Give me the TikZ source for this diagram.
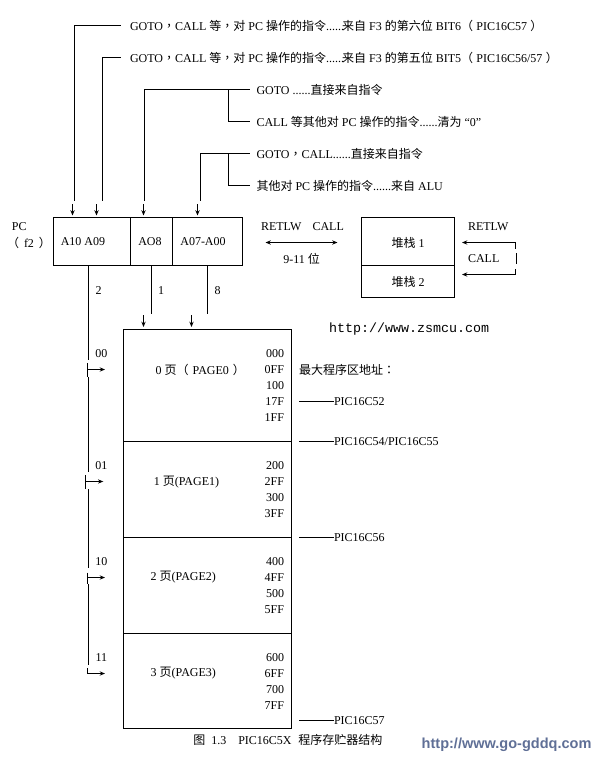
\documentclass[tikz,border=0pt]{standalone}
\usepackage{fontspec}
\setmainfont{Liberation Serif}
\setmonofont{Liberation Mono}
\setsansfont{Liberation Sans}
\newfontfamily\cjk{Noto Sans CJK SC}
\newfontfamily\cjktc{Noto Sans CJK TC}
\newcommand{\zh}[1]{{\cjk\fontsize{9pt}{10pt}\selectfont #1}}
\newcommand{\zc}{{\cjktc\fontsize{9pt}{10pt}\selectfont ，}}
\newcommand{\zo}{\zh{（}\hspace{2.5pt}}
\newcommand{\zd}{\hspace{2.5pt}\zh{）}}
\usetikzlibrary{arrows.meta}
\definecolor{wm}{HTML}{5F6F96}
\tikzset{
  x=0.75pt,y=-0.75pt,
  every node/.style={font=\fontsize{9pt}{11pt}\selectfont,inner sep=0pt,outer sep=0pt},
  wire/.style={line width=0.75pt,line cap=rect},
  tip/.style={line width=0.75pt,-{Stealth[length=4pt,width=3.2pt]}},
  cell/.style 2 args={draw,line width=0.75pt,minimum width=#1*0.75pt,minimum height=#2*0.75pt},
  lab/.style={anchor=west},
  addr/.style={anchor=east},
  ctr/.style={anchor=center},
}
\begin{document}
\begin{tikzpicture}
\useasboundingbox (0,0) rectangle (601,760);
% PC register
\node[cell={77}{48}] (a10) at (92,241.5) {};
\node[cell={42}{48}] (a08) at (151.5,241.5) {};
\node[cell={70}{48}] (a07) at (207.5,241.5) {};
\node[ctr] (a10t) at (83,242) {A10 A09};
\node[ctr] (a08t) at (150,242) {AO8};
\node[ctr] (a07t) at (203,242) {A07-A00};
\node[lab] (pc) at (12,226.5) {PC};
\node[ctr] (f2) at (29,243) {\zh{（}\hspace{3.75pt}f2\hspace{3.75pt}\zh{）}};
% top texts
\node[lab] (t1) at (130,26) {GOTO\zc CALL \zh{等}\zc\zh{对} PC \zh{操作的指令}......\hspace{-1.5pt}\zh{来自} F3 \zh{的第六位} BIT6\zo PIC16C57\zd};
\node[lab] (t2) at (130,57.5) {GOTO\zc CALL \zh{等}\zc\zh{对} PC \zh{操作的指令}......\hspace{-1.5pt}\zh{来自} F3 \zh{的第五位} BIT5\zo PIC16C56/57\zd};
\node[lab] (t3) at (256.5,89.5) {GOTO ......\zh{直接来自指令}};
\node[lab] (t4) at (256.5,121.5) {CALL \zh{等其他对} PC \zh{操作的指令}......\zh{清为} “0”};
\node[lab] (t5) at (256.5,153.5) {GOTO\zc CALL......\zh{直接来自指令}};
\node[lab] (t6) at (256.5,185.5) {\zh{其他对} PC \zh{操作的指令}......\zh{来自} ALU};
% top wires
\coordinate (w1a) at (120,25.5); \coordinate (w1b) at (74.5,25.5); \coordinate (w1c) at (74.5,200);
\coordinate (w2a) at (120,57.5); \coordinate (w2b) at (102.5,57.5); \coordinate (w2c) at (102.5,200);
\coordinate (w3a) at (249,89.5); \coordinate (w3b) at (144.5,89.5); \coordinate (w3c) at (144.5,200);
\coordinate (w3j) at (228.5,89.5); \coordinate (w3k) at (228.5,121.5); \coordinate (w3l) at (249,121.5);
\coordinate (w4a) at (249,153.5); \coordinate (w4b) at (200.5,153.5); \coordinate (w4c) at (200.5,200);
\coordinate (w4j) at (228.5,153.5); \coordinate (w4k) at (228.5,185.5); \coordinate (w4l) at (249,185.5);
\draw[wire] (w1a) -- (w1b) -- (w1c);
\draw[wire] (w2a) -- (w2b) -- (w2c);
\draw[wire] (w3a) -- (w3b) -- (w3c);
\draw[wire] (w3j) -- (w3k) -- (w3l);
\draw[wire] (w4a) -- (w4b) -- (w4c);
\draw[wire] (w4j) -- (w4k) -- (w4l);
% short arrows onto register
\foreach \n/\x in {p1/72.5,p2/96.5,p3/143.5,p4/197.5}{
  \coordinate (\n s) at (\x,204); \coordinate (\n e) at (\x,215.5);
  \draw[tip] (\n s) -- (\n e);
}
% wires out of register
\coordinate (d8) at (207.5,313); \coordinate (d1) at (151.5,313);
\draw[wire] (a07.south) -- (d8);
\draw[wire] (a08.south) -- (d1);
\node[ctr] (n2) at (98.5,290.5) {2};
\node[ctr] (n1) at (161,290.5) {1};
\node[ctr] (n8) at (217.5,290.5) {8};
\foreach \n/\x in {q1/143.5,q2/191.5}{
  \coordinate (\n s) at (\x,315); \coordinate (\n e) at (\x,327);
  \draw[tip] (\n s) -- (\n e);
}
% stack
\node[cell={93}{48}] (s1) at (408,241.5) {};
\node[cell={93}{32}] (s2) at (408,281.5) {};
\node[ctr] (s1t) at (408,243) {\zh{堆栈} 1};
\node[ctr] (s2t) at (408,281.5) {\zh{堆栈} 2};
\node[lab] (r1) at (261,226.5) {RETLW};
\node[lab] (c1) at (312.5,226.5) {CALL};
\coordinate (b1) at (265.5,242.5); \coordinate (b2) at (337.5,242.5);
\draw[line width=0.75pt,{Stealth[length=4pt,width=3.2pt]}-{Stealth[length=4pt,width=3.2pt]}] (b1) -- (b2);
\node[ctr] (bits) at (301.7,259) {9-11 \zh{位}};
\node[lab] (r2) at (468,226.5) {RETLW};
\node[lab] (c2) at (468,258.7) {CALL};
\coordinate (l1) at (515.5,242.5); \coordinate (l1e) at (462,242.5);
\coordinate (l2) at (515.5,249);
\coordinate (l3) at (516.5,253.3); \coordinate (l4) at (516.5,264);
\coordinate (l5) at (515.5,269); \coordinate (l6) at (515.5,274.5); \coordinate (l6e) at (462,274.5);
\draw[tip] (l1) -- (l1e);
\draw[wire,line cap=butt] (l1) -- (l2);
\draw[wire,line cap=butt] (l3) -- (l4);
\draw[tip] (l5) -- (l6) -- (l6e);
% memory
\node[cell={168}{112}] (m0) at (207.5,385.5) {};
\node[cell={168}{96}] (m1) at (207.5,489.5) {};
\node[cell={168}{96}] (m2) at (207.5,585.5) {};
\node[cell={168}{95}] (m3) at (207.5,681) {};
\node[lab] (m0t) at (155.7,369.5) {0 \zh{页（}\hspace{3pt}PAGE0\hspace{3pt}\zh{）}};
\node[ctr] (m1t) at (186.5,481.7) {1 \zh{页}(PAGE1)};
\node[ctr] (m2t) at (183.3,577.5) {2 \zh{页}(PAGE2)};
\node[ctr] (m3t) at (183.3,673.5) {3 \zh{页}(PAGE3)};
\foreach \n/\t/\y in {h0/000/353.5,h1/0FF/369.5,h2/100/385.5,h3/17F/401.5,h4/1FF/417.5,
  h5/200/465.5,h6/2FF/481.5,h7/300/497.5,h8/3FF/513.5,
  h9/400/561.5,h10/4FF/577.5,h11/500/593.5,h12/5FF/609.5,
  h13/600/657.5,h14/6FF/673.5,h15/700/689.5,h16/7FF/705.5}{
  \node[addr] (\n) at (284,\y) {\t};
}
% page select bus
\coordinate (v0) at (88.5,265.5); \coordinate (v1) at (88.5,360);
\coordinate (v2) at (88.5,377); \coordinate (v3) at (88.5,472);
\coordinate (v4) at (88.5,489); \coordinate (v5) at (88.5,568);
\coordinate (v6) at (88.5,584); \coordinate (v7) at (88.5,664.5);
\draw[wire,line cap=butt] (v0) -- (v1);
\draw[wire,line cap=butt] (v2) -- (v3);
\draw[wire,line cap=butt] (v4) -- (v5);
\draw[wire,line cap=butt] (v6) -- (v7);
\node[ctr] (p00) at (101.3,353.5) {00};
\node[ctr] (p01) at (101.3,465.7) {01};
\node[ctr] (p10) at (101.3,561.7) {10};
\node[ctr] (p11) at (101.3,657.7) {11};
\coordinate (k0a) at (87.5,363); \coordinate (k0b) at (87.5,377); \coordinate (k0c) at (87.5,369.5); \coordinate (k0d) at (105,369.5);
\coordinate (k1a) at (85.5,475); \coordinate (k1b) at (85.5,488.5); \coordinate (k1c) at (85.5,481.5); \coordinate (k1d) at (103.3,481.5);
\coordinate (k2a) at (87.5,572.5); \coordinate (k2b) at (87.5,584); \coordinate (k2c) at (87.5,577.5); \coordinate (k2d) at (105,577.5);
\coordinate (k3a) at (87.5,668); \coordinate (k3b) at (87.5,673.5); \coordinate (k3c) at (105,673.5);
\draw[wire,line cap=butt] (k0a) -- (k0b);
\draw[tip] (k0c) -- (k0d);
\draw[wire,line cap=butt] (k1a) -- (k1b);
\draw[tip] (k1c) -- (k1d);
\draw[wire,line cap=butt] (k2a) -- (k2b);
\draw[tip] (k2c) -- (k2d);
\draw[tip] (k3a) -- (k3b) -- (k3c);
% right column
\node[anchor=west,font=\ttfamily\fontsize{10pt}{12pt}\selectfont] (url) at (329,329.5) {http://www.zsmcu.com};
\node[lab] (maxt) at (299,370) {{\cjk\fontsize{9pt}{10pt}\selectfont 最大程序区地址}{\cjktc\fontsize{9pt}{10pt}\selectfont ：}};
\foreach \n/\t/\y in {c52/PIC16C52/401.5,c54/PIC16C54\slash PIC16C55/441.5,c56/PIC16C56/537.5,c57/PIC16C57/720.5}{
  \node[lab] (\n) at (334,\y) {\t};
  \coordinate (\n s) at (299,\y);
  \draw[line width=0.75pt] (\n s) -- (\n.west);
}
% caption and mark
\node[lab] (cap) at (193.3,740) {\zh{图}\hspace{4.5pt}1.3\hspace{9pt}PIC16C5X\hspace{5pt}\zh{程序存贮器结构}};
\node[anchor=west,text=wm,font=\sffamily\bfseries\fontsize{10.9pt}{12pt}\selectfont] (wmk) at (421.7,745) {http://www.go-gddq.com};
\end{tikzpicture}
\end{document}
